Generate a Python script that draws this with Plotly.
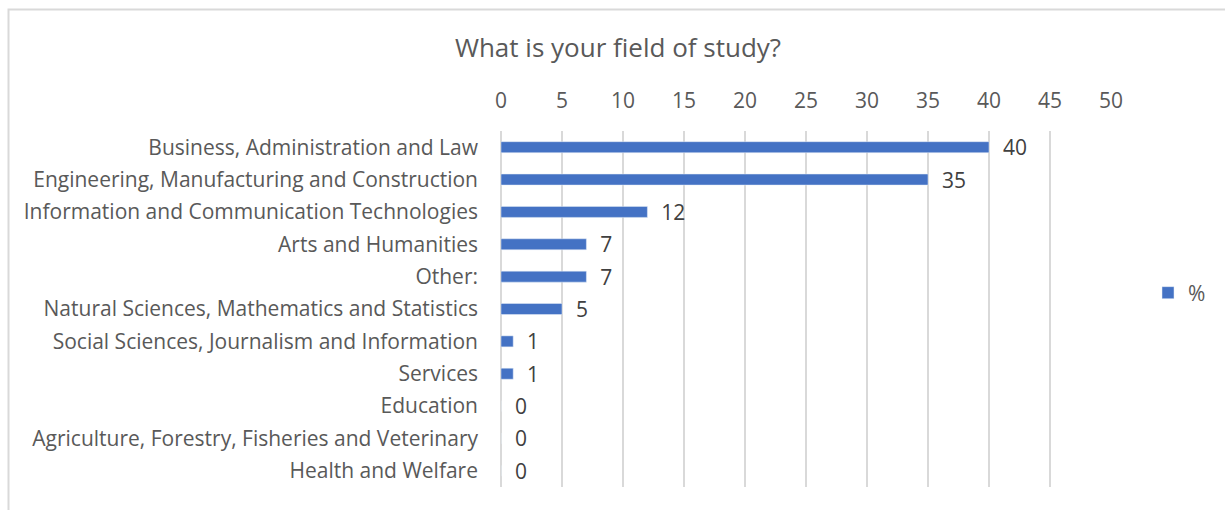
import plotly.graph_objects as go

categories = [
    "Business, Administration and Law",
    "Engineering, Manufacturing and Construction",
    "Information and Communication Technologies",
    "Arts and Humanities",
    "Other:",
    "Natural Sciences, Mathematics and Statistics",
    "Social Sciences, Journalism and Information",
    "Services",
    "Education",
    "Agriculture, Forestry, Fisheries and Veterinary",
    "Health and Welfare",
]
values = [40, 35, 12, 7, 7, 5, 1, 1, 0, 0, 0]
x_ticks = [0, 5, 10, 15, 20, 25, 30, 35, 40, 45, 50]

FONT = "Open Sans, sans-serif"
FS = 21

fig = go.Figure(go.Bar(
    x=values, y=categories, orientation="h", name="%",
    marker=dict(color="#4472C4"), width=0.34,
    text=["\u00a0\u00a0" + str(v) for v in values], textposition="outside",
    textfont=dict(size=FS, color="#404040", family=FONT),
    constraintext="none", cliponaxis=False,
))

W, H = 1225, 510
L, R, T, B = 501, 1111, 131, 487
fig.update_layout(
    width=W, height=H,
    margin=dict(l=L, r=W - R, t=T, b=H - B, autoexpand=False),
    paper_bgcolor="white", plot_bgcolor="white",
    font=dict(family=FONT, color="#595959", size=FS),
    title=dict(text="What is your field of study?", x=618 / W, xanchor="center",
               y=1 - 48 / H, yanchor="middle",
               font=dict(size=26, color="#595959", family=FONT)),
    showlegend=True,
    legend=dict(xref="container", yref="container", x=1148 / W, y=1 - 293 / H,
                xanchor="left", yanchor="middle",
                font=dict(size=FS, color="#595959", family=FONT), itemwidth=30),
)
fig.update_xaxes(side="top", range=[0, 50], tickvals=x_ticks, showgrid=True,
                 gridcolor="#d9d9d9", gridwidth=1.5, zeroline=True, zerolinecolor="#d9d9d9",
                 zerolinewidth=1.5, ticks="", ticklabelstandoff=18,
                 tickfont=dict(size=FS, color="#595959"))
fig.update_yaxes(autorange="reversed", ticks="", ticklabelstandoff=22, showgrid=False,
                 tickfont=dict(size=FS, color="#595959"))

# chart border
fig.add_shape(type="rect", xref="paper", yref="paper",
              x0=(8.5 - L) / (R - L), x1=(1400 - L) / (R - L),
              y0=(B - 700) / (B - T), y1=(B - 9.5) / (B - T),
              line=dict(color="#d9d9d9", width=2), fillcolor="rgba(0,0,0,0)", layer="below")

fig.write_html("out.html")
